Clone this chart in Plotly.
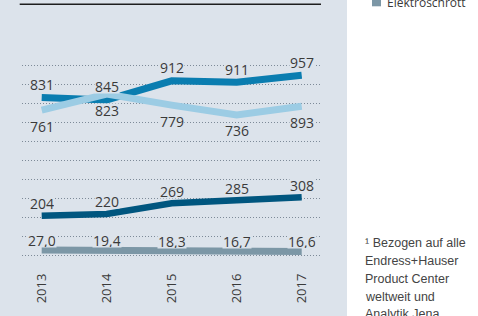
import plotly.graph_objects as go

# ---------------- data ----------------
years = [2013, 2014, 2015, 2016, 2017]
year_labels = ["2013", "2014", "2015", "2016", "2017"]

# printed values (labels)
teal_values = [831, 845, 912, 911, 957]
light_values = [761, 823, 779, 736, 893]
navy_values = [204, 220, 269, 285, 308]
grey_values = [27.0, 19.4, 18.3, 16.7, 16.6]

# line levels (in grid steps of the schematic chart)
teal_level = [8.29, 8.16, 9.17, 9.09, 9.46]
light_level = [7.63, 8.47, 7.89, 7.37, 7.83]
navy_level = [2.06, 2.16, 2.72, 2.86, 3.04]
grey_level = [0.26, 0.24, 0.21, 0.19, 0.18]

legend_label = "Elektroschrott"
footnote_lines = ["\u00b9 Bezogen auf alle", "Endress+Hauser", "Product Center",
                  "weltweit und", "Analytik Jena"]

# ---------------- style ----------------
PANEL = "#dce3eb"
TEXT = "#3a3a3a"
FONT = "Open Sans"
W, H = 478, 316
L, R, T, B = 22, 156, 50, 46
PW, PH = W - L - R, H - T - B


def px_x(x):
    return (x - L) / PW


def px_y(y):
    return (H - B - y) / PH


def fmt_int(v):
    return f"{v:d}"


def fmt_dec(v):
    return f"{v:.1f}".replace(".", ",")


series = [
    dict(level=navy_level, values=navy_values, fmt=fmt_int, color="#00567f", width=6.5, shift=12),
    dict(level=grey_level, values=grey_values, fmt=fmt_dec, color="#7c97a6", width=7, shift=10),
    dict(level=teal_level, values=teal_values, fmt=fmt_int, color="#0a7db0", width=7, shift=13),
    dict(level=light_level, values=light_values, fmt=fmt_int, color="#9ccce4", width=7, shift=-16),
]

fig = go.Figure()
annotations = []
for s in series:
    fig.add_trace(go.Scatter(
        x=years, y=s["level"], mode="lines",
        line=dict(color=s["color"], width=s["width"]),
        hoverinfo="skip", showlegend=False,
    ))
    for x, lv, v in zip(years, s["level"], s["values"]):
        annotations.append(dict(
            x=x, y=lv, xref="x", yref="y", text=s["fmt"](v), showarrow=False,
            yshift=s["shift"], font=dict(family=FONT, size=14, color=TEXT),
            bgcolor=PANEL, borderpad=0, height=13,
        ))

# legend remnant (top right)
annotations.append(dict(
    x=px_x(385), y=px_y(13.5), xref="paper", yref="paper", xanchor="left", yanchor="bottom",
    text=legend_label, showarrow=False, font=dict(family=FONT, size=12, color=TEXT),
))

# footnote
baselines = [247.3, 265.0, 283.3, 301.0, 318.5]
for line, bl in zip(footnote_lines, baselines):
    annotations.append(dict(
        x=px_x(363), y=px_y(bl - 4.2), xref="paper", yref="paper", xanchor="left", yanchor="middle",
        text=line, showarrow=False,
        font=dict(family="Liberation Sans Narrow, Arial Narrow, Liberation Sans", size=12.5,
                  color="#444444"),
    ))

shapes = [
    # panel background
    dict(type="rect", xref="paper", yref="paper", x0=px_x(0), x1=px_x(347),
         y0=px_y(H), y1=px_y(0), fillcolor=PANEL, line=dict(width=0), layer="below"),
    # top rule
    dict(type="line", xref="paper", yref="paper", x0=px_x(19.7), x1=px_x(321),
         y0=px_y(4.3), y1=px_y(4.3), line=dict(color="#1e1e1e", width=1.5)),
    # legend swatch
    dict(type="rect", xref="paper", yref="paper", x0=px_x(372), x1=px_x(381),
         y0=px_y(6.3), y1=px_y(-2.7), fillcolor="#7c97a6", line=dict(width=0)),
]

y_bottom = (255 - (H - B)) / 19.0
y_top = (255 - T) / 19.0
x0 = 2013 - (41.7 - L) / 65.0
x1 = 2017 + (L + PW - 301.7) / 65.0

fig.update_layout(
    width=W, height=H,
    margin=dict(l=L, r=R, t=T, b=B, pad=0),
    paper_bgcolor="white", plot_bgcolor=PANEL,
    showlegend=False,
    annotations=annotations, shapes=shapes,
    xaxis=dict(range=[x0, x1], tickmode="array", tickvals=years, ticktext=year_labels,
               tickangle=-90, showgrid=False, zeroline=False, showline=False, ticks="",
               tickfont=dict(family=FONT, size=13, color=TEXT), fixedrange=True),
    yaxis=dict(range=[y_bottom, y_top], tickmode="linear", tick0=0, dtick=1,
               showgrid=True, gridcolor="#7d8a98", gridwidth=1, griddash="1px,2px",
               zeroline=False, showline=False, showticklabels=False, ticks="",
               layer="above traces", fixedrange=True),
)

fig.write_html("out.html", config={"staticPlot": True},
               post_script="document.body.style.margin='0';")
